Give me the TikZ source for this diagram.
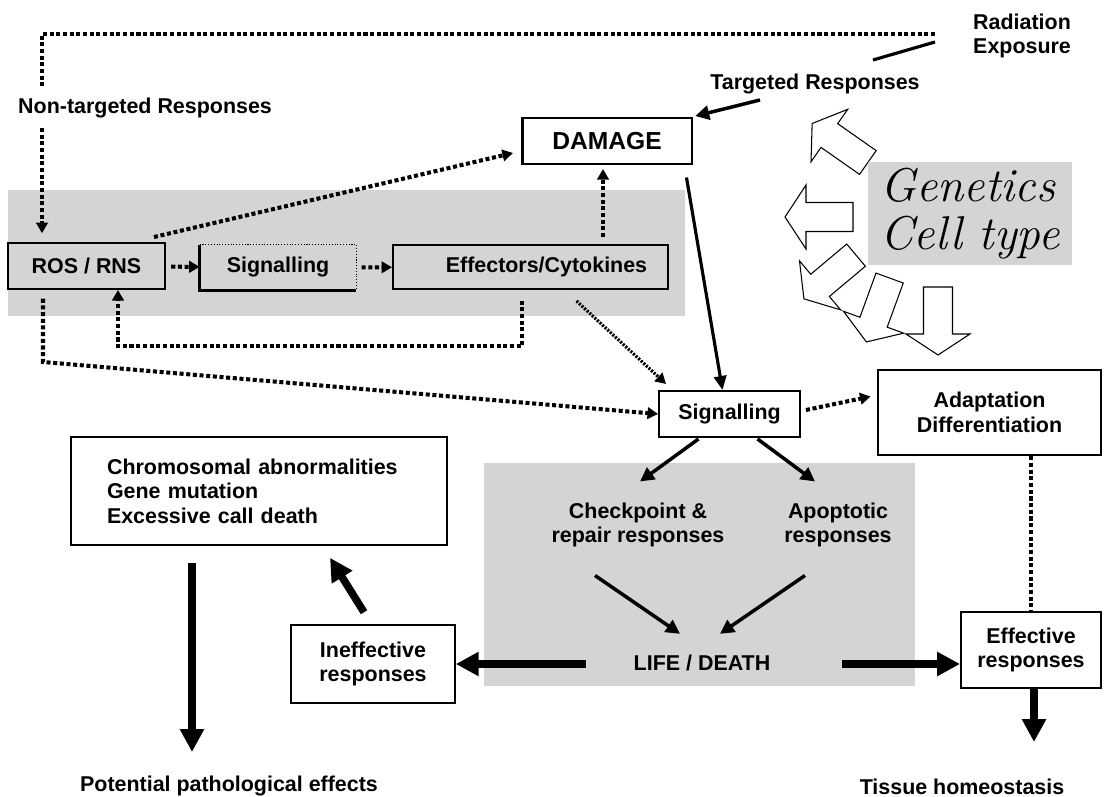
\documentclass[tikz,border=0pt]{standalone}
\usepackage{fontspec}
\newfontfamily\labelfont{Liberation Sans}
\usetikzlibrary{arrows.meta}
\definecolor{bandgray}{RGB}{212, 212, 212}

\begin{document}
\begin{tikzpicture}[
    x=0.02cm, y=-0.02cm,
    font=\labelfont\bfseries\fontsize{12.2}{14}\selectfont,
    box/.style={draw, line width=1.1pt, inner sep=0pt, align=center},
    dots/.style={line width=2.3pt, dash pattern=on 2.3pt off 1.5pt},
    dotarrow/.style={dots, -{Triangle[length=6pt, width=6.5pt]}},
    medarrow/.style={line width=2pt, -{Triangle[length=8pt, width=8pt]}},
    bigarrow/.style={line width=4.3pt, -{Triangle[length=13pt, width=13pt]}},
    % hollow block arrow round the genetics box, pointing along +x
    blockarrow/.pic={
        \draw[fill=white, line width=0.6pt]
            (-34,-14.5) -- (13,-14.5) -- (13,-32) -- (34,0) -- (13,32) -- (13,14.5) -- (-34,14.5) -- cycle;
    }
]
    \useasboundingbox (0,0) rectangle (1108,797);

    % Grey bands
    \fill[bandgray] (8,190) rectangle (685,316);
    \fill[bandgray] (484,463) rectangle (915,686);

    % Coordinates
    \coordinate (topR)   at (935,34);
    \coordinate (topL)   at (42,34);
    \coordinate (ntA)    at (42,88);
    \coordinate (ntB)    at (42,128);
    \coordinate (slashA) at (873,60);
    \coordinate (slashB) at (935,42);
    \coordinate (targA)  at (760,100);
    \coordinate (effUp)  at (603,0);
    \coordinate (damL)   at (513,153);
    \coordinate (fbR)    at (522,346);
    \coordinate (fbL)    at (118,346);
    \coordinate (rosBend) at (43,362);
    \coordinate (lifeL)  at (586,664);
    \coordinate (lifeR)  at (842,664);
    \coordinate (pathoIn) at (192,752);
    \coordinate (tissueIn) at (1034,742);

    % Genetics / cell type
    \pic[rotate=145] at (840,143) {blockarrow};
    \pic[rotate=180] at (819,217) {blockarrow};
    \pic[rotate=220] at (830,277) {blockarrow};
    \pic[rotate=250] at (878,310) {blockarrow};
    \pic[rotate=270] at (938,321) {blockarrow};
    \node[fill=bandgray, minimum width=4.08cm, minimum height=2.06cm, align=left,
          font=\rmfamily\mdseries\itshape\fontsize{27}{27}\selectfont] (gen) at (970,213.5) {Genetics\\Cell type};

    % Boxes
    \node[box, line width=1.7pt, fill=white, minimum width=3.4cm, minimum height=0.92cm,
          font=\labelfont\bfseries\fontsize{14}{16}\selectfont] (damage) at (607,141) {DAMAGE};
    \node[box, minimum width=3.14cm, minimum height=0.92cm] (ros) at (86.5,266) {ROS / RNS};
    \node[inner sep=0pt, minimum width=3.12cm, minimum height=0.9cm] (sig1) at (278,267.5) {Signalling};
    \node[box, minimum width=5.5cm, minimum height=0.88cm] (eff) at (530.5,267) {\hspace*{0.64cm}Effectors/Cytokines};
    \node[box, fill=white, minimum width=2.82cm, minimum height=0.92cm] (sig2) at (729.5,414) {Signalling};
    \node[box, line width=1.6pt, fill=white, minimum width=4.46cm, minimum height=1.7cm] (adapt) at (989.5,412.5) {Adaptation\\Differentiation};
    \node[box, line width=0.9pt, fill=white, minimum width=7.52cm, minimum height=2.16cm,
          text width=6.08cm, inner xsep=0.72cm, align=left] (chrom) at (259,491) {Chromosomal abnormalities\\Gene mutation\\Excessive call death};
    \node[box, line width=0.9pt, fill=white, minimum width=3.28cm, minimum height=1.56cm] (ineff) at (373,664) {Ineffective\\responses};
    \node[box, fill=white, minimum width=2.8cm, minimum height=1.52cm] (effect) at (1031,650) {Effective\\responses};

    % half solid, half dotted border of the inner signalling box
    \draw[line width=1.4pt] (sig1.north west) -- (sig1.south west) -- (sig1.south east);
    \draw[line width=0.6pt, densely dotted] (sig1.north west) -- (sig1.north east) -- (sig1.south east);

    % Labels
    \node[anchor=west, align=left] (rad) at (967,36) {Radiation\\Exposure};
    \node (targ) at (815,84) {Targeted Responses};
    \node[anchor=west] (nontarg) at (12,108) {Non-targeted Responses};
    \node[align=center] (chk) at (638,525) {Checkpoint \&\\repair responses};
    \node[align=center] (apo) at (838,525) {Apoptotic\\responses};
    \node (life) at (702,663) {LIFE / DEATH};
    \node (patho) at (229,786) {Potential pathological effects};
    \node (tissue) at (962,787) {Tissue homeostasis};

    % Radiation exposure branches
    \draw[dots] (topR) -- (topL) -- (ntA);
    \draw[dotarrow, shorten >=5pt] (ntB) -- (ros.north -| ntB);
    \draw[line width=1.8pt] (slashA) -- (slashB);
    \draw[medarrow, shorten >=1pt] (targA) -- (damage.north east);

    % Non-targeted loop
    \draw[dotarrow] ([shift={(-12,-5)}]ros.north east) -- (damL);
    \draw[dotarrow, shorten <=3pt] (ros) -- (sig1);
    \draw[dotarrow, shorten <=3pt] (sig1) -- (eff);
    \draw[dotarrow, shorten <=4pt, shorten >=2pt] (eff.north -| effUp) -- (damage.south -| effUp);
    \draw[dotarrow, shorten <=6pt] (eff.south -| fbR) -- (fbR) -- (fbL) -- (ros.south -| fbL);
    \draw[dotarrow, shorten <=5pt] (ros.south -| rosBend) -- (rosBend) -- (sig2.west);
    \draw[dots, line width=1.8pt, dash pattern=on 1.2pt off 0.8pt, -{Triangle[length=6pt, width=6.5pt]}]
        ([shift={(46,11)}]eff.south) -- ([shift={(8,-6)}]sig2.north west);

    % Targeted path
    \draw[line width=1.8pt, -{Triangle[length=8pt, width=7pt]}] ([shift={(-7,12)}]damage.south east) -- ([shift={(-7,0)}]sig2.north);
    \draw[dotarrow] ([shift={(5,-4)}]sig2.east) -- ([shift={(-6,-16)}]adapt.west);
    \draw[medarrow] ([shift={(-31,1)}]sig2.south) -- ([shift={(2,-15)}]chk.north);
    \draw[medarrow] ([shift={(28,1)}]sig2.south) -- ([shift={(-23,-15)}]apo.north);
    \draw[medarrow] ([shift={(-43,22)}]chk.south) -- ([shift={(-22,-15)}]life.north);
    \draw[medarrow] ([shift={(-33,22)}]apo.south) -- ([shift={(18,-15)}]life.north);

    % Outcomes
    \draw[bigarrow] (lifeL) -- (ineff.east |- lifeL);
    \draw[bigarrow] (lifeR) -- (effect.west |- lifeR);
    \draw[bigarrow] ([shift={(-9,-12)}]ineff.north) -- ([shift={(71,12)}]chrom.south);
    \draw[bigarrow, shorten <=10pt] (chrom.south -| pathoIn) -- (pathoIn);
    \draw[bigarrow] (effect.south -| tissueIn) -- (tissueIn);
    \draw[dots] (effect.north |- adapt.south) -- (effect.north);

\end{tikzpicture}
\end{document}
